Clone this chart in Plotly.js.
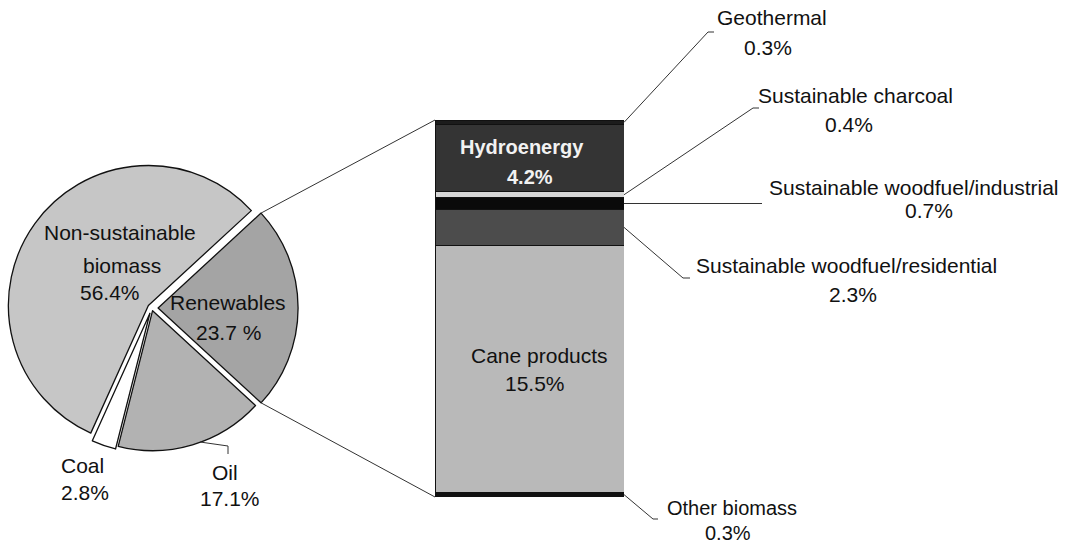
<!DOCTYPE html>
<html><head><meta charset="utf-8">
<script src="https://cdn.plot.ly/plotly-3.0.1.min.js"></script>
<style>html,body{margin:0;padding:0;background:#fff}</style>
</head><body><div id="chart" style="width:1070px;height:546px"></div>
<script>
// ---- data ----
const pieLabels = ['Renewables', 'Oil', 'Coal', 'Non-sustainable biomass'];
const pieValues = [23.7, 17.1, 2.8, 56.4];
const pieColors = ['#a4a4a4', '#b2b2b2', '#ffffff', '#c6c6c6'];
const piePull = [0.045, 0.02, 0.04, 0.03];

const barLabels = ['Other biomass', 'Cane products', 'Sustainable woodfuel/residential',
  'Sustainable woodfuel/industrial', 'Sustainable charcoal', 'Hydroenergy', 'Geothermal'];
const barValues = [0.3, 15.5, 2.3, 0.7, 0.4, 4.2, 0.3];
const barColors = ['#111111', '#b9b9b9', '#4c4c4c', '#0a0a0a', '#d6d6d6', '#343434', '#1c1c1c'];

// ---- geometry ----
const W = 1070, H = 546;
const pieDomX = [0.0035, 0.2802], pieDomY = [0.1680, 0.7039];
const barDomX = [435 / W, 624 / W], barDomY = [1 - 497 / H, 1 - 120 / H];

const pieTotal = pieValues.reduce((a, b) => a + b, 0);
const rotation = 90 - pieValues[0] / pieTotal * 360 / 2;
const barTotal = barValues.reduce((a, b) => a + b, 0);

// pie geometry (as Plotly computes it)
const boxW = W * (pieDomX[1] - pieDomX[0]), boxH = H * (pieDomY[1] - pieDomY[0]);
const maxPull = Math.max(...piePull);
const r = Math.min(boxW, boxH) / (2 + 2 * maxPull);
const cx = W * (pieDomX[0] + pieDomX[1]) / 2;
const cy = H * (1 - pieDomY[0]) - boxH / 2;
const d2r = Math.PI / 180;
const a0 = rotation * d2r, a1 = (rotation + pieValues[0] / pieTotal * 360) * d2r;
const am = (a0 + a1) / 2;
const offX = piePull[0] * r * Math.sin(am), offY = -piePull[0] * r * Math.cos(am);
function piePt(a) {
  return [(cx + offX + r * Math.sin(a)) / W, 1 - (cy + offY - r * Math.cos(a)) / H];
}
function barY(v) { return barDomY[0] + v / barTotal * (barDomY[1] - barDomY[0]); }
function px(x) { return x / W; }
function py(y) { return 1 - y / H; }

const pTop = piePt(a0), pBot = piePt(a1);

const lineStyle = {color: '#333', width: 1};
const shapes = [
  {type: 'line', xref: 'paper', yref: 'paper', x0: pTop[0], y0: pTop[1], x1: barDomX[0], y1: barY(barTotal), line: lineStyle},
  {type: 'line', xref: 'paper', yref: 'paper', x0: pBot[0], y0: pBot[1], x1: barDomX[0], y1: barY(0), line: lineStyle}
];

// leaders from segment midpoints
const cum = [];
let s = 0;
for (const v of barValues) { cum.push(s + v / 2); s += v; }
const leaderEnds = {
  'Geothermal': [[708, 32], [714, 32]],
  'Sustainable charcoal': [[753, 108], [759, 108]],
  'Sustainable woodfuel/industrial': [[762, null]],
  'Sustainable woodfuel/residential': [[683, 278], [690, 278]],
  'Other biomass': [[653, 519], [658, 519]]
};
barLabels.forEach((lab, i) => {
  const e = leaderEnds[lab];
  if (!e) return;
  let x = barDomX[1], y = barY(cum[i]);
  e.forEach(p => {
    const nx = px(p[0]), ny = p[1] === null ? y : py(p[1]);
    shapes.push({type: 'line', xref: 'paper', yref: 'paper', x0: x, y0: y, x1: nx, y1: ny, line: lineStyle});
    x = nx; y = ny;
  });
});
// oil leader
const oilPts = [[200, 442], [228, 446], [228, 454]];
for (let i = 0; i < oilPts.length - 1; i++) {
  shapes.push({type: 'line', xref: 'paper', yref: 'paper', x0: px(oilPts[i][0]), y0: py(oilPts[i][1]),
    x1: px(oilPts[i + 1][0]), y1: py(oilPts[i + 1][1]), line: lineStyle});
}

// ---- text ----
const FONT = '"Liberation Sans", Arial, Helvetica, sans-serif';
const annotations = [];
function addText(lines, color, size, bold) {
  lines.forEach(l => {
    annotations.push({xref: 'paper', yref: 'paper', x: px(l[1]), y: py(l[2]), xanchor: 'center', yanchor: 'middle',
      text: bold ? '<b>' + l[0] + '</b>' : l[0], showarrow: false,
      font: {family: FONT, size: size, color: color}});
  });
}
const pv = n => pieValues[pieLabels.indexOf(n)];
const bv = n => barValues[barLabels.indexOf(n)];
const FS = 21;
addText([['Non-sustainable', 120, 232], ['biomass', 122, 265], [pv('Non-sustainable biomass') + '%', 110, 292]], '#111', FS);
addText([['Renewables', 228, 302], [pv('Renewables') + ' %', 228, 332]], '#111', FS);
addText([['Coal', 82, 465], [pv('Coal') + '%', 85, 492]], '#111', FS);
addText([['Oil', 225, 472], [pv('Oil') + '%', 230, 498]], '#111', FS);
addText([['Hydroenergy', 522, 147], [bv('Hydroenergy') + '%', 530, 177]], '#f2f2f2', 20, true);
addText([['Cane products', 540, 355], [bv('Cane products') + '%', 535, 383]], '#111', FS);
addText([['Geothermal', 772, 18], [bv('Geothermal') + '%', 768, 47]], '#111', FS);
addText([['Sustainable charcoal', 855, 95], [bv('Sustainable charcoal') + '%', 849, 125]], '#111', FS);
addText([['Sustainable woodfuel/industrial', 914, 187], [bv('Sustainable woodfuel/industrial') + '%', 929, 211]], '#111', FS);
addText([['Sustainable woodfuel/residential', 846, 265], [bv('Sustainable woodfuel/residential') + '%', 853, 294]], '#111', FS);
addText([['Other biomass', 732, 508], [bv('Other biomass') + '%', 728, 533]], '#111', 20);

// ---- traces ----
const traces = [{
  type: 'pie', labels: pieLabels, values: pieValues, sort: false, direction: 'clockwise',
  rotation: rotation, pull: piePull, textinfo: 'none', hoverinfo: 'label+percent',
  marker: {colors: pieColors, line: {color: '#111', width: 1.3}},
  domain: {x: pieDomX, y: pieDomY}, showlegend: false
}];
barLabels.forEach((lab, i) => {
  traces.push({type: 'bar', x: ['Renewables'], y: [barValues[i]], name: lab,
    marker: {color: barColors[i], line: {color: '#111', width: 1}}, showlegend: false, hoverinfo: 'name+y'});
});

const layout = {
  width: W, height: H, margin: {l: 0, r: 0, t: 0, b: 0},
  paper_bgcolor: '#fff', plot_bgcolor: 'rgba(0,0,0,0)',
  barmode: 'stack', bargap: 0, showlegend: false,
  xaxis: {domain: barDomX, type: 'category', range: [-0.5, 0.5], visible: false, fixedrange: true},
  yaxis: {domain: barDomY, range: [0, barTotal], visible: false, fixedrange: true},
  shapes: shapes, annotations: annotations
};
Plotly.newPlot('chart', traces, layout, {displayModeBar: false, staticPlot: true});
</script></body></html>
